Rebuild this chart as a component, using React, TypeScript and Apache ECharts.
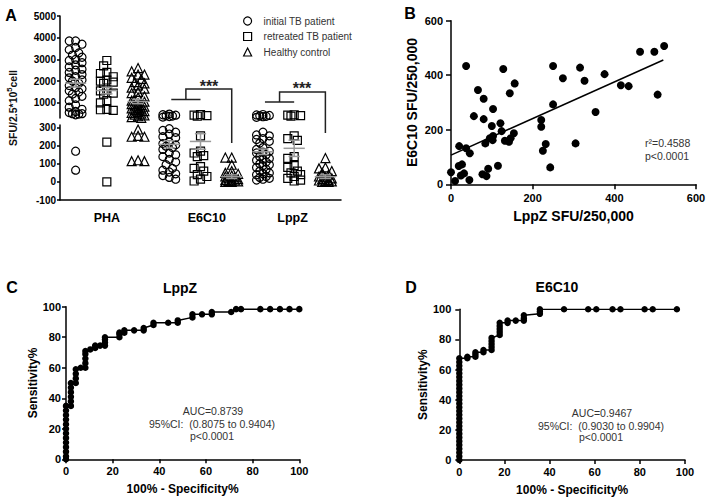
import React, { useEffect, useRef } from "react";
import * as echarts from "echarts";

const FONT = "'Liberation Sans', Arial, Helvetica, sans-serif";

// ---------------- Panel A data ----------------
const stimuli = ["PHA", "E6C10", "LppZ"];
const stimulusLabelPos = [1.5, 4.7, 7.45];
const groupNames = ["initial TB patient", "retreated TB patient", "Healthy control"];
const yUpperTicks = [1000, 2000, 3000, 4000, 5000];
const yLowerTicks = [-100, 0, 100, 200, 300];

const phaInitial = [3850, 3850, 3700, 3550, 3450, 3300, 3200, 3100, 3000, 2950, 2850, 2750, 2650, 2550, 2500, 2400, 2300, 2200, 2150, 2050, 2000, 1900, 1800, 1700, 1650, 1550, 1500, 1400, 1300, 1200, 1100, 900, 800, 700, 600, 550, 500, 500, 480, 450, 170, 65];
const phaRetreated = [2950, 2700, 2400, 2350, 2200, 2050, 2000, 1950, 1900, 1600, 1550, 1450, 1400, 1100, 1000, 700, 680, 650, 220, 0];
const phaHealthy = [2600, 2450, 2300, 2300, 2150, 2100, 1950, 1900, 1800, 1700, 1650, 1500, 1450, 1300, 1250, 1100, 1050, 980, 940, 900, 870, 820, 780, 740, 700, 660, 620, 580, 540, 500, 460, 420, 380, 340, 310, 290, 255, 250, 250, 120, 115, 115];
const e6c10Initial = [480, 450, 430, 410, 390, 370, 340, 295, 285, 275, 265, 250, 245, 220, 212, 205, 198, 190, 180, 160, 150, 140, 125, 110, 95, 75, 65, 55, 45, 35, 25, 15];
const e6c10Retreated = [460, 430, 410, 380, 255, 170, 160, 145, 140, 85, 75, 60, 40, 30, 15, 5];
const e6c10Healthy = [135, 135, 95, 60, 50, 45, 35, 30, 25, 20, 15, 12, 10, 8, 5, 3, 0, 0];
const lppzInitial = [460, 440, 420, 400, 380, 360, 330, 275, 260, 255, 240, 235, 225, 215, 190, 180, 170, 165, 160, 150, 140, 130, 125, 120, 110, 100, 95, 90, 80, 70, 60, 50, 45, 40, 30, 25, 20, 15, 10];
const lppzRetreated = [450, 430, 410, 390, 255, 240, 230, 140, 130, 90, 80, 60, 50, 40, 30, 20, 10, 5];
const lppzHealthy = [132, 80, 75, 60, 50, 40, 30, 25, 20, 15, 10, 8, 5, 3, 0, 0];
const groupMeans = [1906, 1565, 1060, 208, 224, 29, 167, 186, 29];
const groupSEM = [180, 150, 100, 20, 43, 10, 15, 45, 10];

// ---------------- Panel B data ----------------
const lppzSFU = [0, 10, 20, 19, 27, 24, 32, 37, 37, 46, 45, 56, 66, 80, 80, 77, 87, 91, 84, 100, 103, 95, 103, 102, 115, 128, 121, 124, 132, 142, 144, 146, 154, 156, 221, 221, 225, 232, 243, 250, 250, 274, 316, 327, 376, 354, 305, 416, 435, 463, 498, 522, 506];
const e6c10SFU = [44, 12, 140, 67, 73, 32, 40, 434, 132, 114, 16, 250, 346, 314, 239, 37, 30, 57, 150, 214, 276, 169, 177, 162, 68, 423, 224, 195, 160, 156, 334, 169, 187, 370, 236, 211, 123, 148, 62, 434, 293, 389, 428, 380, 404, 265, 150, 363, 360, 486, 486, 507, 329];
const fitIntercept = 107;
const fitSlope = 0.671;
const fitXRange = [0, 520];

// ---------------- Panel C / D data ----------------
const lppzRoc = [
  [0, 0], [0, 2], [0, 5], [0, 8], [0, 11], [0, 14], [0, 17], [0, 20], [0, 23], [0, 26], [0, 29], [0, 32], [0, 35],
  [2.1, 35], [2.1, 38], [2.1, 41], [2.1, 44], [2.1, 47], [2.1, 50],
  [4.2, 50], [4.2, 53], [4.2, 56], [4.2, 59], [6.3, 60],
  [8.3, 60], [8.3, 63], [8.3, 66], [8.3, 69], [8.3, 71],
  [10.4, 72], [12.5, 73], [12.5, 74.5], [14.6, 74.5],
  [16.7, 74.5], [16.7, 76.5], [16.7, 78.5], [16.7, 80],
  [22.9, 80], [22.9, 82], [22.9, 83], [25, 83], [25, 84.5], [29.2, 84.5], [33.3, 84.5], [33.3, 86],
  [37.5, 88], [37.5, 89.5], [43.8, 89.5], [47.9, 89.5], [47.9, 91], [54.2, 93], [54.2, 95], [58.3, 95],
  [62.5, 95], [62.5, 96.5], [70.8, 96.5], [72.9, 98.4], [75, 98.4], [83.3, 98.4], [87.5, 98.4], [91.7, 98.4], [95.8, 98.4], [100, 98.4],
];
const e6c10Roc = [
  [0, 0], [0, 2.5], [0, 5], [0, 7.5], [0, 10], [0, 12.5], [0, 15], [0, 17.5], [0, 20], [0, 22.5], [0, 25], [0, 27.5], [0, 30], [0, 32.5],
  [0, 35], [0, 37.5], [0, 40], [0, 42.5], [0, 45], [0, 47.5], [0, 50], [0, 52.5], [0, 55], [0, 57.5], [0, 60], [0, 62.5], [0, 65], [0, 67.5],
  [3.57, 67.5], [3.57, 68.5], [7.14, 68.5], [7.14, 70], [7.14, 71.5], [10.7, 71.5], [10.7, 73],
  [14.3, 73], [14.3, 75], [14.3, 77], [14.3, 79], [14.3, 81],
  [17.9, 83], [17.9, 85], [17.9, 87], [17.9, 89], [17.9, 91], [21.4, 91], [21.4, 92.5], [25, 92.5],
  [28.6, 92.5], [28.6, 94], [28.6, 96], [35.7, 97], [35.7, 98.5], [35.7, 100],
  [46.4, 100], [57.1, 100], [60.7, 100], [67.9, 100], [71.4, 100], [82.1, 100], [85.7, 100], [96.4, 100],
];

// ---------------- helpers ----------------
function swarm(values: number[], center: number, pyOf: (v: number) => number, colPx: number) {
  const sorted = [...values].sort((a, b) => b - a);
  const placed: { px: number; py: number }[] = [];
  const out: number[][] = [];
  const step = 3.2;
  const minD = 5.5;
  const cands = [0, -1, 1, -2, 2];
  for (const v of sorted) {
    const py = pyOf(v);
    let best = 0;
    let bestD = -1;
    for (const k of cands) {
      const px = k * step;
      let d = Infinity;
      for (const p of placed) {
        const dd = Math.hypot(p.px - px, p.py - py);
        if (dd < d) d = dd;
      }
      if (d >= minD) {
        best = px;
        break;
      }
      if (d > bestD) {
        bestD = d;
        best = px;
      }
    }
    placed.push({ px: best, py });
    out.push([center + best / colPx, v]);
  }
  return out;
}

const plain = (v: number) => String(v);
const axisLineStyle = { show: true, onZero: false, lineStyle: { color: "#000", width: 1.5 } };
const tickStyle = (len: number) => ({ show: true, length: len, lineStyle: { color: "#000", width: 1.5 } });
const labelStyle = (size: number, margin: number) => ({
  fontSize: size,
  fontWeight: "bold",
  color: "#000",
  fontFamily: FONT,
  margin,
  formatter: plain,
});
const txt = (x: number, y: number, text: string, size: number, weight: string, fill: string, align = "center", rotation = 0) => ({
  type: "text",
  x,
  y,
  rotation,
  silent: true,
  style: {
    text,
    fontSize: size,
    fontWeight: weight,
    fontFamily: FONT,
    fill,
    align,
    verticalAlign: "middle",
    textAlign: align,
    textVerticalAlign: "middle",
  },
});

function buildOption() {
  const A = { left: 60, width: 281, upTop: 16, upH: 102, upMin: 300, upMax: 5000, loTop: 125, loH: 75, loMin: -100, loMax: 315 };
  const colPx = A.width / 9;
  const pyUp = (v: number) => A.upTop + ((A.upMax - v) / (A.upMax - A.upMin)) * A.upH;
  const pyLo = (v: number) => A.loTop + ((A.loMax - v) / (A.loMax - A.loMin)) * A.loH;
  const groups = [phaInitial, phaRetreated, phaHealthy, e6c10Initial, e6c10Retreated, e6c10Healthy, lppzInitial, lppzRetreated, lppzHealthy];
  const symbols = ["circle", "rect", "triangle"];
  const series: any[] = [];

  groups.forEach((vals, g) => {
    const center = g + 0.5;
    const up = vals.filter((v) => v >= A.upMin);
    const lo = vals.filter((v) => v < A.upMin);
    const common = {
      type: "scatter",
      name: groupNames[g % 3],
      symbol: symbols[g % 3],
      symbolSize: g % 3 === 2 ? 9 : 8,
      itemStyle: { color: "rgba(0,0,0,0)", borderColor: "#000", borderWidth: 1.2, opacity: 1 },
      silent: true,
      z: 3,
    };
    series.push({ ...common, xAxisIndex: 0, yAxisIndex: 0, data: swarm(up, center, pyUp, colPx) });
    series.push({ ...common, xAxisIndex: 1, yAxisIndex: 1, data: swarm(lo, center, pyLo, colPx) });
  });

  const meanRender = (_params: any, api: any) => {
    const x = api.value(0);
    const m = api.value(1);
    const s = api.value(2);
    const style = { stroke: "#9a9a9a", lineWidth: 1.5 };
    const seg = (x1: number, y1: number, x2: number, y2: number) => {
      const a = api.coord([x1, y1]);
      const b = api.coord([x2, y2]);
      return { type: "line", shape: { x1: a[0], y1: a[1], x2: b[0], y2: b[1] }, style };
    };
    return {
      type: "group",
      children: [
        seg(x - 0.34, m, x + 0.34, m),
        seg(x, m - s, x, m + s),
        seg(x - 0.18, m + s, x + 0.18, m + s),
        seg(x - 0.18, m - s, x + 0.18, m - s),
      ],
    };
  };
  const meanUp: number[][] = [];
  const meanLo: number[][] = [];
  groupMeans.forEach((m, g) => {
    (m >= A.upMin ? meanUp : meanLo).push([g + 0.5, m, groupSEM[g]]);
  });
  series.push({ type: "custom", xAxisIndex: 0, yAxisIndex: 0, data: meanUp, renderItem: meanRender, silent: true, z: 5 });
  series.push({ type: "custom", xAxisIndex: 1, yAxisIndex: 1, data: meanLo, renderItem: meanRender, silent: true, z: 5 });

  // Panel B
  series.push({
    type: "scatter",
    xAxisIndex: 2,
    yAxisIndex: 2,
    symbol: "circle",
    symbolSize: 8,
    itemStyle: { color: "#000", opacity: 1 },
    silent: true,
    data: lppzSFU.map((x, i) => [x, e6c10SFU[i]]),
  });
  series.push({
    type: "line",
    xAxisIndex: 2,
    yAxisIndex: 2,
    showSymbol: false,
    symbol: "none",
    lineStyle: { color: "#000", width: 1.5 },
    silent: true,
    data: fitXRange.map((x) => [x, fitIntercept + fitSlope * x]),
  });

  // Panels C / D
  const rocSeries = (idx: number, data: number[][]) => ({
    type: "line",
    xAxisIndex: idx,
    yAxisIndex: idx,
    symbol: "circle",
    symbolSize: 6.5,
    showAllSymbol: true,
    itemStyle: { color: "#000", opacity: 1 },
    lineStyle: { color: "#000", width: 1.5 },
    silent: true,
    data,
  });
  series.push(rocSeries(3, lppzRoc));
  series.push(rocSeries(4, e6c10Roc));

  const colX = (i: number) => A.left + (i + 0.5) * colPx;

  const grid = [
    { left: A.left, top: A.upTop, width: A.width, height: A.upH },
    { left: A.left, top: A.loTop, width: A.width, height: A.loH },
    { left: 451, top: 20.7, width: 245, height: 163.6 },
    { left: 66, top: 306.7, width: 233.3, height: 152.6 },
    { left: 459.3, top: 309.3, width: 225.7, height: 150.7 },
  ].map((g) => ({ ...g, containLabel: false, outerBoundsMode: "none" }));

  const xAxis: any[] = [
    { gridIndex: 0, type: "value", min: 0, max: 9, show: false },
    {
      gridIndex: 1,
      type: "value",
      min: 0,
      max: 9,
      axisLine: axisLineStyle,
      axisTick: { show: false },
      splitLine: { show: false },
      axisLabel: {
        ...labelStyle(12.5, 11),
        customValues: stimulusLabelPos,
        formatter: (v: number) => {
          const i = stimulusLabelPos.findIndex((p) => Math.abs(p - v) < 0.01);
          return i >= 0 ? stimuli[i] : "";
        },
      },
    },
    {
      gridIndex: 2,
      type: "value",
      min: 0,
      max: 600,
      interval: 200,
      axisLine: axisLineStyle,
      axisTick: tickStyle(5),
      splitLine: { show: false },
      axisLabel: labelStyle(11, 8),
      name: "LppZ SFU/250,000",
      nameLocation: "middle",
      nameGap: 25,
      nameTextStyle: { fontSize: 14, fontWeight: "bold", color: "#000", fontFamily: FONT },
    },
    ...[3, 4].map((gi) => ({
      gridIndex: gi,
      type: "value",
      min: 0,
      max: 100,
      interval: 20,
      axisLine: axisLineStyle,
      axisTick: tickStyle(4),
      splitLine: { show: false },
      axisLabel: labelStyle(11, 6),
      name: "100% - Specificity%",
      nameLocation: "middle",
      nameGap: 24,
      nameTextStyle: { fontSize: 12, fontWeight: "bold", color: "#000", fontFamily: FONT },
    })),
  ];

  const yAxis: any[] = [
    {
      gridIndex: 0,
      type: "value",
      min: A.upMin,
      max: A.upMax,
      axisLine: axisLineStyle,
      axisTick: { ...tickStyle(3), customValues: yUpperTicks },
      splitLine: { show: false },
      axisLabel: { ...labelStyle(10, 4), customValues: yUpperTicks },
    },
    {
      gridIndex: 1,
      type: "value",
      min: A.loMin,
      max: A.loMax,
      axisLine: axisLineStyle,
      axisTick: { ...tickStyle(3), customValues: yLowerTicks },
      splitLine: { show: false },
      axisLabel: { ...labelStyle(10, 4), customValues: yLowerTicks },
    },
    {
      gridIndex: 2,
      type: "value",
      min: 0,
      max: 600,
      interval: 200,
      axisLine: axisLineStyle,
      axisTick: tickStyle(5),
      splitLine: { show: false },
      axisLabel: labelStyle(11, 8),
      name: "E6C10 SFU/250,000",
      nameLocation: "middle",
      nameRotate: 90,
      nameGap: 32,
      nameTextStyle: { fontSize: 14, fontWeight: "bold", color: "#000", fontFamily: FONT },
    },
    ...[3, 4].map((gi) => ({
      gridIndex: gi,
      type: "value",
      min: 0,
      max: 100,
      interval: 20,
      axisLine: axisLineStyle,
      axisTick: tickStyle(4),
      splitLine: { show: false },
      axisLabel: labelStyle(11, gi === 3 ? 5 : 8),
      name: "Sensitivity%",
      nameLocation: "middle",
      nameRotate: 90,
      nameGap: gi === 3 ? 27 : 28,
      nameTextStyle: { fontSize: 12, fontWeight: "bold", color: "#000", fontFamily: FONT },
    })),
  ];

  const bracketStyle = { stroke: "#222", lineWidth: 1.5, fill: "none" };
  const graphic: any[] = [
    txt(11, 15, "A", 16, "bold", "#000"),
    txt(410, 13, "B", 16, "bold", "#000"),
    txt(12, 287, "C", 16, "bold", "#000"),
    txt(411, 287, "D", 16, "bold", "#000"),
    {
      type: "text",
      x: 12,
      y: 108,
      rotation: Math.PI / 2,
      silent: true,
      style: {
        text: "{a|SFU/2.5*10}{b|5}{a|cell}",
        align: "center",
        verticalAlign: "middle",
        textAlign: "center",
        textVerticalAlign: "middle",
        fill: "#111",
        rich: {
          a: { fontSize: 10.5, fontWeight: "bold", fontFamily: FONT, lineHeight: 13, verticalAlign: "bottom", fill: "#111" },
          b: { fontSize: 7.5, fontWeight: "bold", fontFamily: FONT, lineHeight: 13, verticalAlign: "top", fill: "#111" },
        },
      },
    },
    // significance brackets
    { type: "line", silent: true, shape: { x1: colX(3) + 2, y1: 99.5, x2: colX(4), y2: 99.5 }, style: bracketStyle },
    { type: "polyline", silent: true, shape: { points: [[(colX(3) + colX(4)) / 2 + 1, 99.5], [(colX(3) + colX(4)) / 2 + 1, 89], [colX(5), 89], [colX(5), 143]] }, style: bracketStyle },
    txt(209, 86, "***", 16, "bold", "#222"),
    { type: "line", silent: true, shape: { x1: colX(6) + 2, y1: 102, x2: colX(7), y2: 102 }, style: bracketStyle },
    { type: "polyline", silent: true, shape: { points: [[(colX(6) + colX(7)) / 2 + 1, 102], [(colX(6) + colX(7)) / 2 + 1, 92], [colX(8), 92], [colX(8), 133]] }, style: bracketStyle },
    txt(302, 88, "***", 16, "bold", "#222"),
    // panel B stats
    txt(645, 143, "r\u00b2=0.4588", 10.5, "normal", "#333", "left"),
    txt(645, 156, "p<0.0001", 10.5, "normal", "#333", "left"),
    // ROC titles
    txt(180, 288, "LppZ", 14, "bold", "#000"),
    txt(557, 287, "E6C10", 14, "bold", "#000"),
    // ROC stats
    txt(213, 411, "AUC=0.8739", 10.5, "normal", "#333"),
    txt(212, 424, "95%CI:  (0.8075 to 0.9404)", 10.5, "normal", "#333"),
    txt(212, 436, "p<0.0001", 10.5, "normal", "#333"),
    txt(602, 413, "AUC=0.9467", 10.5, "normal", "#333"),
    txt(601, 426, "95%CI:  (0.9030 to 0.9904)", 10.5, "normal", "#333"),
    txt(601, 437, "p<0.0001", 10.5, "normal", "#333"),
  ];

  return {
    animation: false,
    backgroundColor: "#fff",
    textStyle: { fontFamily: FONT },
    legend: {
      data: groupNames.map((n, i) => ({
        name: n,
        icon: symbols[i],
        itemStyle: { color: "rgba(0,0,0,0)", borderColor: "#000", borderWidth: 1.2 },
      })),
      orient: "vertical",
      left: 238,
      top: 10,
      itemWidth: 8,
      itemHeight: 8,
      itemGap: 3.5,
      selectedMode: false,
      textStyle: { fontSize: 10, color: "#333", fontFamily: FONT, padding: [0, 0, 0, 7], lineHeight: 12 },
    },
    grid,
    xAxis,
    yAxis,
    series,
    graphic,
  };
}

export default function App() {
  const ref = useRef<HTMLDivElement>(null);
  useEffect(() => {
    if (!ref.current) return;
    const chart = echarts.init(ref.current, null, { renderer: "svg" });
    chart.setOption(buildOption() as any);
    return () => chart.dispose();
  }, []);
  return (
    <div
      ref={ref}
      style={{ position: "fixed", left: 0, top: 0, width: 708, height: 498, background: "#fff" }}
    />
  );
}
